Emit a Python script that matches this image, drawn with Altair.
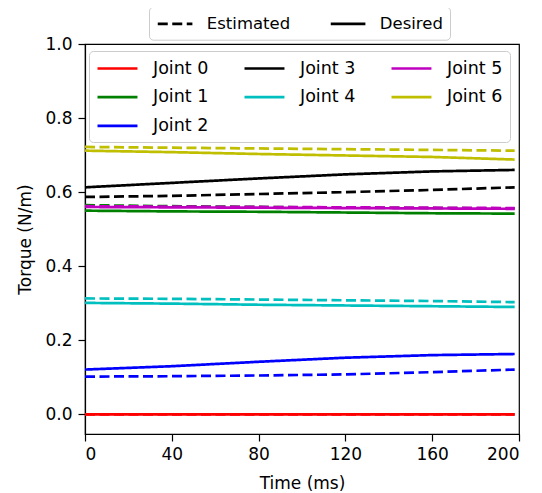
import altair as alt
import pandas as pd

time_ms = [0, 40, 80, 120, 160, 198]
joints = ["Joint 0", "Joint 1", "Joint 2", "Joint 3", "Joint 4", "Joint 5", "Joint 6"]
joint_colors = ["#ff0000", "#008000", "#0000ff", "#000000", "#00bfbf", "#bf00bf", "#bfbf00"]

desired = {
    "Joint 0": [0.0, 0.0, 0.0, 0.0, 0.0, 0.0],
    "Joint 1": [0.550, 0.548, 0.547, 0.545, 0.543, 0.542],
    "Joint 2": [0.121, 0.130, 0.142, 0.153, 0.160, 0.163],
    "Joint 3": [0.613, 0.625, 0.637, 0.648, 0.656, 0.660],
    "Joint 4": [0.301, 0.299, 0.296, 0.294, 0.292, 0.290],
    "Joint 5": [0.560, 0.559, 0.558, 0.557, 0.556, 0.555],
    "Joint 6": [0.712, 0.708, 0.703, 0.699, 0.695, 0.688],
}
estimated = {
    "Joint 0": [0.0, 0.0, 0.0, 0.0, 0.0, 0.0],
    "Joint 1": [0.565, 0.562, 0.560, 0.558, 0.557, 0.556],
    "Joint 2": [0.102, 0.103, 0.105, 0.108, 0.114, 0.121],
    "Joint 3": [0.587, 0.590, 0.595, 0.600, 0.606, 0.613],
    "Joint 4": [0.313, 0.312, 0.310, 0.308, 0.306, 0.303],
    "Joint 5": [0.562, 0.561, 0.560, 0.559, 0.558, 0.557],
    "Joint 6": [0.722, 0.720, 0.718, 0.716, 0.714, 0.712],
}

# Domain order chosen so Vega's column-first legend grid (3 columns) shows
# rows: Joint 0, Joint 3, Joint 5 / Joint 1, Joint 4, Joint 6 / Joint 2
legend_domain = ["Joint 0", "Joint 1", "Joint 6", "Joint 3", "Joint 4", "Joint 2", "Joint 5"]
legend_colors = [joint_colors[joints.index(j)] for j in legend_domain]

rows = []
for j in joints:
    for kind, src in (("Desired", desired), ("Estimated", estimated)):
        for t, v in zip(time_ms, src[j]):
            rows.append({"t": t, "torque": v, "joint": j, "kind": kind})
df = pd.DataFrame(rows)

FONT = "DejaVu Sans"

chart = alt.Chart(df).mark_line(strokeWidth=2.7).encode(
    x=alt.X("t:Q", title="Time (ms)",
            scale=alt.Scale(domain=[0, 200], nice=False),
            axis=alt.Axis(values=[0, 40, 80, 120, 160, 200])),
    y=alt.Y("torque:Q", title="Torque (N/m)",
            scale=alt.Scale(domain=[-0.053, 1.0], nice=False, zero=False),
            axis=alt.Axis(values=[0, 0.2, 0.4, 0.6, 0.8, 1.0], format=".1f")),
    color=alt.Color("joint:N",
                    scale=alt.Scale(domain=legend_domain, range=legend_colors),
                    legend=alt.Legend(
                        title=None, orient="none", legendX=4, legendY=7,
                        columns=3, symbolType="M-1,0H3.44", symbolSize=324,
                        symbolStrokeWidth=2.7, labelFontSize=17.5, labelFont=FONT,
                        labelColor="black", labelOffset=36, padding=7,
                        rowPadding=9.7, columnPadding=30,
                        strokeColor="#cccccc", cornerRadius=4,
                        fillColor="rgba(255,255,255,0.8)")),
    strokeDash=alt.StrokeDash("kind:N",
                              scale=alt.Scale(domain=["Estimated", "Desired"],
                                              range=[[10, 4.5], [1, 0]]),
                              legend=alt.Legend(
                                  title=None, orient="none", direction="horizontal",
                                  legendX=64, legendY=-37.3,
                                  symbolType="M-1,0H3.2", symbolSize=272,
                                  symbolStrokeColor="black", symbolStrokeWidth=2.7,
                                  labelFontSize=16.5, labelFont=FONT, labelColor="black",
                                  labelOffset=30.8, padding=7, columnPadding=34,
                                  strokeColor="#cccccc", cornerRadius=4,
                                  fillColor="white")),
).properties(
    width=434, height=390,
    autosize=alt.AutoSizeParams(type="none"),
    padding={"left": 77, "top": 36, "right": 15, "bottom": 58},
).configure_view(
    stroke="black", strokeWidth=1.2
).configure_axis(
    grid=False, domainColor="black", domainWidth=1.2, tickColor="black",
    tickSize=7, tickWidth=1.2, labelFont=FONT, labelFontSize=17, labelColor="black",
    labelPadding=5, titleFont=FONT, titleFontSize=17, titleFontWeight="normal",
    titleColor="black"
).configure_axisX(titlePadding=13).configure_axisY(labelPadding=6, titlePadding=10)

chart.save("out.html", embed_options={"renderer": "svg", "actions": False})
